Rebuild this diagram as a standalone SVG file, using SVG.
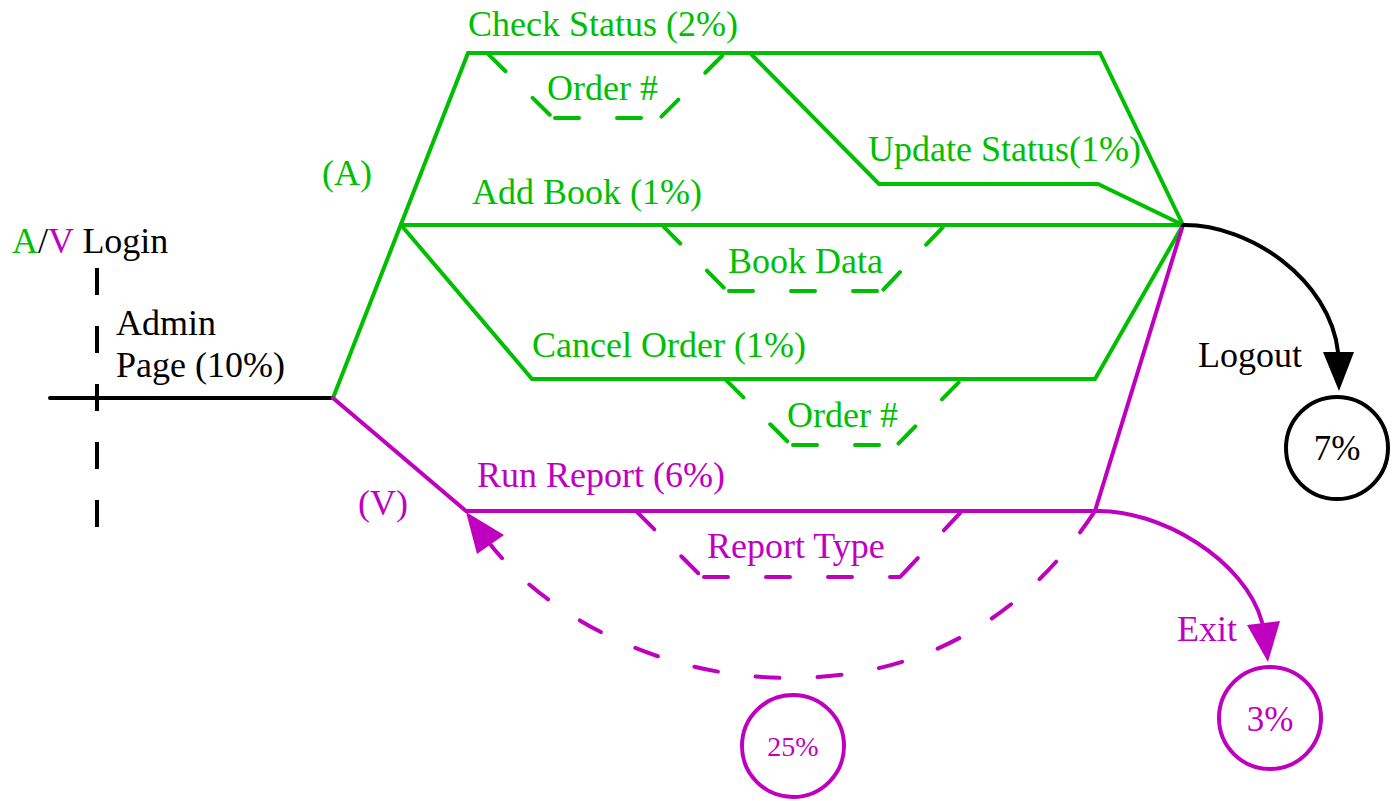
<svg xmlns="http://www.w3.org/2000/svg" width="1393" height="801" viewBox="0 0 1393 801">
  <style>
    .t { font-family: 'Liberation Serif', serif; font-size: 36px; }
    .g { fill: #00BF00; }
    .m { fill: #BF00BF; }
    .k { fill: #000000; }
    .ln { fill: none; stroke-width: 4; stroke-linejoin: miter; stroke-linecap: round; }
    .gs { stroke: #00BF00; }
    .ms { stroke: #BF00BF; }
    .ks { stroke: #000000; }
    .dash { fill: none; stroke-width: 4; stroke-linecap: round; stroke-dasharray: 24 38; stroke-dashoffset: -2; }
    .circ { fill: #ffffff; stroke-width: 4; }
  </style>

  <!-- login axis -->
  <g id="login">
    <line x1="97" y1="268" x2="97" y2="527" class="ks" stroke-width="4" stroke-dasharray="27 31" />
    <line x1="50" y1="398" x2="333" y2="398" class="ln ks" />
    <text x="12" y="253" class="t" font-family="Liberation Serif"><tspan class="g">A</tspan><tspan class="k">/</tspan><tspan class="m">V</tspan><tspan class="k"> Login</tspan></text>
    <text x="116" y="335" class="t k" font-family="Liberation Serif">Admin</text>
    <text x="116" y="377" class="t k" font-family="Liberation Serif">Page (10%)</text>
  </g>

  <!-- paths between pages -->
  <g id="connectors">
    <!-- admin (A) branches -->
    <polyline class="ln gs" points="333,398 468,53 1100,53 1183,225" />
    <line class="ln gs" x1="401" y1="225" x2="1183" y2="225" />
    <polyline class="ln gs" points="750,53 879,184 1098,184 1183,225" />
    <polyline class="ln gs" points="401,225 532,379 1095,379 1183,225" />
    <!-- viewer (V) branch -->
    <polyline class="ln ms" points="333,398 466,511 1095,511 1183,225" />

    <!-- parameter inputs -->
    <g id="param-order-top">
      <line class="dash gs" x1="487" y1="53" x2="553" y2="118" />
      <line class="dash gs" x1="553" y1="118" x2="660" y2="118" />
      <line class="dash gs" x1="660" y1="118" x2="725" y2="53" />
    </g>
    <g id="param-book-data">
      <line class="dash gs" x1="662" y1="225" x2="727" y2="291" />
      <line class="dash gs" x1="727" y1="291" x2="882" y2="291" />
      <line class="dash gs" x1="882" y1="291" x2="945" y2="225" />
    </g>
    <g id="param-order-cancel">
      <line class="dash gs" x1="725" y1="379" x2="791" y2="445" />
      <line class="dash gs" x1="791" y1="445" x2="897" y2="445" />
      <line class="dash gs" x1="897" y1="445" x2="962" y2="379" />
    </g>
    <g id="param-report-type">
      <line class="dash ms" x1="636" y1="511" x2="702" y2="577" />
      <line class="dash ms" x1="702" y1="577" x2="900" y2="577" />
      <line class="dash ms" x1="900" y1="577" x2="962" y2="511" />
    </g>

    <!-- logout -->
    <path class="ln ks" d="M1183,225 C1250,224 1330,280 1338,352" />
    <polygon class="k" points="1323,352 1354,352 1339,391" />

    <!-- exit -->
    <path class="ln ms" d="M1095,511 C1160,509 1245,560 1262,622" />
    <polygon class="m" points="1247,625 1280,621 1268,662" />

    <!-- report loop -->
    <path class="dash ms" d="M1095,511 C1036,601 940,678 790,678 C650,678 539,607 490,544" />
    <polygon class="m" points="466,512 504,535 477,554" />
  </g>

  <!-- branch labels -->
  <g id="labels" font-family="Liberation Serif">
    <text x="322" y="185" class="t g">(A)</text>
    <text x="358" y="515" class="t m">(V)</text>
    <text x="468" y="36" class="t g">Check Status (2%)</text>
    <text x="547" y="100" class="t g">Order #</text>
    <text x="868" y="161" class="t g">Update Status(1%)</text>
    <text x="472" y="204" class="t g">Add Book (1%)</text>
    <text x="728" y="273" class="t g">Book Data</text>
    <text x="532" y="357" class="t g">Cancel Order (1%)</text>
    <text x="787" y="427" class="t g">Order #</text>
    <text x="477" y="487" class="t m">Run Report (6%)</text>
    <text x="707" y="558" class="t m">Report Type</text>
    <text x="1198" y="367" class="t k">Logout</text>
    <text x="1177" y="641" class="t m">Exit</text>
  </g>

  <!-- end states -->
  <g id="end-logout" font-family="Liberation Serif">
    <circle cx="1337" cy="448" r="51" class="circ ks" />
    <text x="1337" y="460" class="t k" style="font-size:35px" text-anchor="middle">7%</text>
  </g>
  <g id="end-exit" font-family="Liberation Serif">
    <circle cx="1270" cy="718" r="51" class="circ ms" />
    <text x="1270" y="731" class="t m" style="font-size:35px" text-anchor="middle">3%</text>
  </g>
  <g id="end-report" font-family="Liberation Serif">
    <circle cx="793" cy="746" r="51" class="circ ms" />
    <text x="793" y="756" class="t m" style="font-size:28px" text-anchor="middle">25%</text>
  </g>
</svg>
